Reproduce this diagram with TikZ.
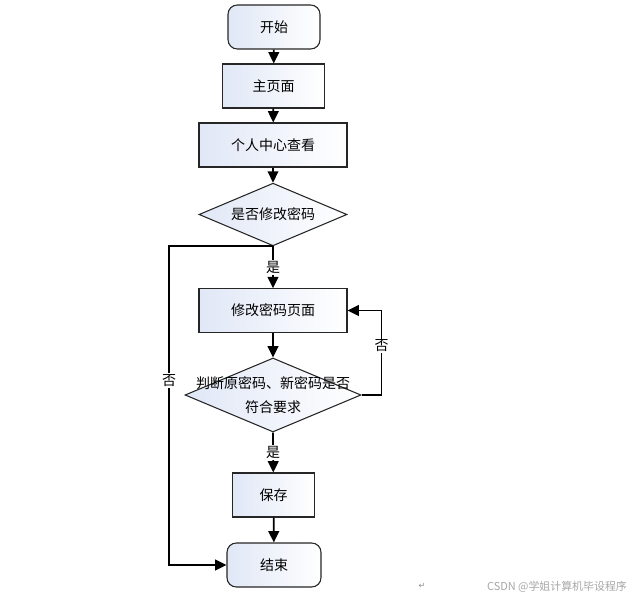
\documentclass[tikz,border=0pt]{standalone}
\usepackage{fontspec}
\usetikzlibrary{shapes.geometric,arrows.meta}
\newfontfamily\cjk{Noto Sans CJK SC}
\newfontfamily\dejavu{DejaVu Sans}
\definecolor{boxblue}{RGB}{224,231,246}
\tikzset{
   box/.style={draw=black!85,line width=0.8pt,left color=boxblue,right color=white,
     inner sep=0pt,minimum height=33pt,font=\cjk\fontsize{10.5}{18}\selectfont},
   term/.style={box,rounded corners=7pt},
   ask/.style={box,shape=diamond,inner sep=0pt},
   flow/.style={line width=1.3pt,-{Triangle[width=8pt,length=8.5pt]}},
   lab/.style={fill=white,inner sep=1pt,font=\cjk\fontsize{10.5}{12}\selectfont}
}

\begin{document}
\begin{tikzpicture}[x=0.75pt,y=-0.75pt]
   \useasboundingbox (0,0) rectangle (640,599);
   \path (274,27) node[term,minimum width=69pt] (S0) {开始};
   \path (273.5,86) node[box,minimum width=77pt] (S1) {主页面};
   \path (273,145) node[box,minimum width=111pt] (S2) {个人中心查看};
   \path (273,214.5) node[ask,minimum width=111pt,minimum height=47pt,aspect=2.35] (Q1) {是否修改密码};
   \path (273,310.5) node[box,minimum width=111pt,minimum height=32.5pt] (S3) {修改密码页面};
   \path (273,395) node[ask,minimum width=132pt,minimum height=55.5pt,aspect=2.38,
     inner xsep=-32pt,align=center] (Q2) {判断原密码、新密码是否\\符合要求};
   \path (273.5,495) node[box,minimum width=62pt] (S4) {保存};
   \path (274,565) node[term,minimum width=70.5pt] (S5) {结束};

   \draw[flow] (S0) -- (S1);
   \draw[flow] (S1) -- (S2);
   \draw[flow] (S2) -- (Q1);
   \draw[flow] (Q1.south) -- node[lab,pos=0.5] {是} (S3);
   \draw[flow] (S3) -- (Q2);
   \draw[flow] (Q2.south) -- node[lab,pos=0.5] {是} (S4);
   \draw[flow] (S4) -- (S5);
   \draw[flow] (Q1.south) -- ++(-104,0) |- node[lab,pos=0.21] {否} (S5.west);
   \draw[flow] (Q2.east) -- ++(20,0) |- node[lab,pos=0.29] {否} (S3.east);

   \path (422,586) node[text=black!45,font=\dejavu\fontsize{6}{7}\selectfont] (Rt) {↵};
   \path (557,587) node[text=black!35,font=\cjk\fontsize{8.2}{9}\selectfont] (Wm) {CSDN @学姐计算机毕设程序};
\end{tikzpicture}
\end{document}
